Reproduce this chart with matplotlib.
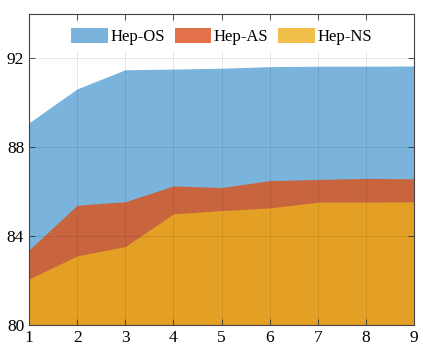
import matplotlib.pyplot as plt
from matplotlib.patches import Patch

plt.rcParams['font.family'] = ['Liberation Serif', 'DejaVu Serif']

steps = [1, 2, 3, 4, 5, 6, 7, 8, 9]
hep_os = [89.10, 90.63, 91.49, 91.52, 91.56, 91.63, 91.65, 91.65, 91.66]
hep_as = [83.38, 85.39, 85.55, 86.26, 86.19, 86.50, 86.55, 86.60, 86.58]
hep_ns = [82.07, 83.11, 83.53, 85.00, 85.15, 85.27, 85.53, 85.53, 85.55]

labels = ['Hep-OS', 'Hep-AS', 'Hep-NS']
fill_colors = ['#7ab4dc', '#c8653f', '#e4a024']
legend_colors = ['#7ab4dc', '#e3714a', '#f0bf4a']

fig = plt.figure(figsize=(4.23, 3.56), dpi=100)
ax = fig.add_axes([0.0686, 0.0871, 0.9101, 0.8736])

base = 80
for vals, c in zip([hep_os, hep_as, hep_ns], fill_colors):
    ax.fill_between(steps, base, vals, color=c, linewidth=0, zorder=1)

ax.set_xlim(1, 9)
ax.set_ylim(80, 94)
ax.set_xticks(steps)
ax.set_yticks([80, 84, 88, 92])
ax.grid(True, color='#000000', alpha=0.09, linewidth=0.7)
ax.set_axisbelow(False)
ax.tick_params(direction='in', top=True, right=True, labelsize=12.5,
               length=4, width=0.6, color='#333333')
for s in ax.spines.values():
    s.set_color('#444444')
    s.set_linewidth(0.8)
    s.set_zorder(5)

handles = [Patch(facecolor=c, edgecolor='none') for c in legend_colors]
leg = ax.legend(handles, labels, ncol=3, loc='upper center',
                bbox_to_anchor=(0.5, 0.972), borderaxespad=0, frameon=True,
                fontsize=12, handlelength=2.2, handleheight=1.0,
                handletextpad=0.15, columnspacing=0.6, borderpad=0.3,
                fancybox=False)
leg.get_frame().set_edgecolor('white')
leg.get_frame().set_alpha(1)

fig.savefig('out.png', dpi=100)
